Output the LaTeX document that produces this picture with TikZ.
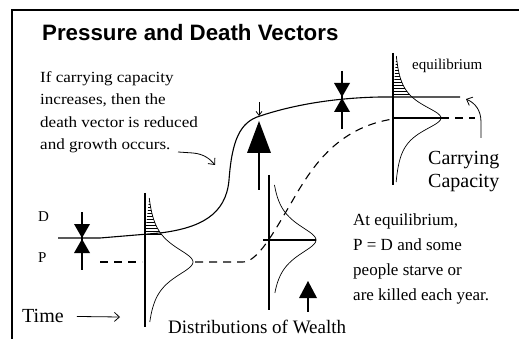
\documentclass[tikz,border=0pt]{standalone}
\usepackage{fontspec}
\setmainfont{Liberation Serif}
\newfontfamily\titlefont{Liberation Sans}
\newfontfamily\widefont[FakeStretch=1.1]{Liberation Serif}
\usetikzlibrary{arrows.meta}

\begin{document}
\begin{tikzpicture}[x=1pt,y=-1pt,
  axis/.style={line width=1.3pt},
  capline/.style={line width=1.1pt},
  pressure/.style={line width=1.1pt,dash pattern=on 8pt off 6pt},
  bell/.style={line width=0.7pt},
  hatch/.style={line width=0.6pt},
  note/.style={inner sep=0pt,anchor=base west},
  barb/.style={line width=0.8pt,-{Straight Barb[length=5pt,width=9pt]}}]
  \useasboundingbox (0,0) rectangle (519,339);
  % Frame and title
  \draw[line width=1.4pt] (12,339) -- (12,10) -- (519,10);
  \node[note,font=\titlefont\bfseries\fontsize{22.3}{25}\selectfont] (title) at (42,41) {Pressure and Death Vectors};

  % Death level (carrying capacity)
  \draw[capline] (58,238) -- (100,238) -- (160,233)
    .. controls (200,228) and (226,215) .. (229,180)
    .. controls (232,140) and (240,122) .. (260,116)
    .. controls (290,106) and (330,98) .. (380,97) -- (460,97);

  % Pressure level
  \draw[pressure] (100,262) -- (142,262);
  \draw[pressure] (195,262) -- (243,262)
    .. controls (258,262) and (275,230) .. (290,205)
    .. controls (310,170) and (335,128) .. (393,119);
  \draw[pressure] (441,118) -- (475,118);

  % Distributions of wealth
  \draw[axis] (145,193) -- (145,327);
  \draw[bell] plot[domain=-64:60,samples=80] ({145+48/(1+(\x/20)*(\x/20))},{262+\x});
  \begin{scope}
    \clip plot[domain=-64:-27,samples=30] ({145+48/(1+(\x/20)*(\x/20))},{262+\x}) -- (145,235) -- cycle;
    \foreach \h in {0,3,...,36}
      \draw[hatch] (145,198+\h) -- +(25,0);
  \end{scope}

  \draw[axis] (269,175) -- (269,310);
  \draw[bell] plot[domain=-55:53,samples=80] ({269+47/(1+(\x/20)*(\x/20))},{240+\x});
  \draw[axis] (263,240) -- (316,240);

  \draw[axis] (393,53) -- (393,185);
  \draw[bell] plot[domain=-62:64,samples=80] ({393+48/(1+(\x/17)*(\x/17))},{118+\x});
  \begin{scope}
    \clip plot[domain=-62:-21,samples=30] ({393+48/(1+(\x/17)*(\x/17))},{118+\x}) -- (393,97) -- cycle;
    \foreach \h in {0,3,...,39}
      \draw[hatch] (393,58+\h) -- +(25,0);
  \end{scope}
  \draw[axis] (393,118) -- (441,118);

  % Pressure and death vectors
  \foreach \bx/\by in {82/238,342/97} {
    \draw[axis] (\bx,\by-26) -- (\bx,\by+32);
    \fill (\bx-8,\by-14) -- (\bx+8,\by-14) -- (\bx,\by) -- cycle;
    \fill (\bx-8,\by+15) -- (\bx+8,\by+15) -- (\bx,\by+1) -- cycle;
  }
  \draw[axis] (259,190) -- (259,150);
  \fill (259,121) -- (271,153) -- (247,153) -- cycle;
  \draw[line width=0.8pt,-{Straight Barb[length=4pt,width=6pt]}] (259,102) -- (259,116);
  \fill (308,281) -- (317,298) -- (299,298) -- cycle;
  \draw[axis] (308,297) -- (308,312);

  % Labels
  \node[note,align=left,font=\widefont\fontsize{15.5}{22.5}\selectfont] (growth) at (40,150)
    {If carrying capacity\\increases, then the\\death vector is reduced\\and growth occurs.};
  \coordinate (growthtail) at (178,152);
  \coordinate (growthtip) at (215,165);
  \draw[barb] (growthtail) -- ++(15,1) .. controls +(11,1) and +(-5,-6) .. (growthtip);

  \node[note,font=\fontsize{15}{18}\selectfont] (equil) at (412,70) {equilibrium};
  \node[note,align=left,font=\fontsize{20}{23}\selectfont] (capacity) at (428,188) {Carrying\\Capacity};
  \coordinate (capfoot) at (481,138);
  \coordinate (captip) at (466,99);
  \draw[barb] (capfoot) -- (481,122) .. controls (481,110) and (475,103) .. (captip);

  \node[note,align=left,font=\fontsize{17}{25}\selectfont] (atequil) at (353,300)
    {At equilibrium,\\P = D and some\\people starve or\\are killed each year.};

  \node[note,font=\fontsize{15}{18}\selectfont] (dlabel) at (38,221) {D};
  \node[note,font=\fontsize{15}{18}\selectfont] (plabel) at (38,262) {P};

  \node[note,font=\fontsize{20}{24}\selectfont] (time) at (22,322) {Time};
  \coordinate (timehead) at (120,317);
  \draw[barb] ([xshift=13pt,yshift=-1pt]time.east) -- (timehead);

  \node[note,font=\fontsize{19}{22}\selectfont] (wealth) at (168,333) {Distributions of Wealth};
\end{tikzpicture}
\end{document}
